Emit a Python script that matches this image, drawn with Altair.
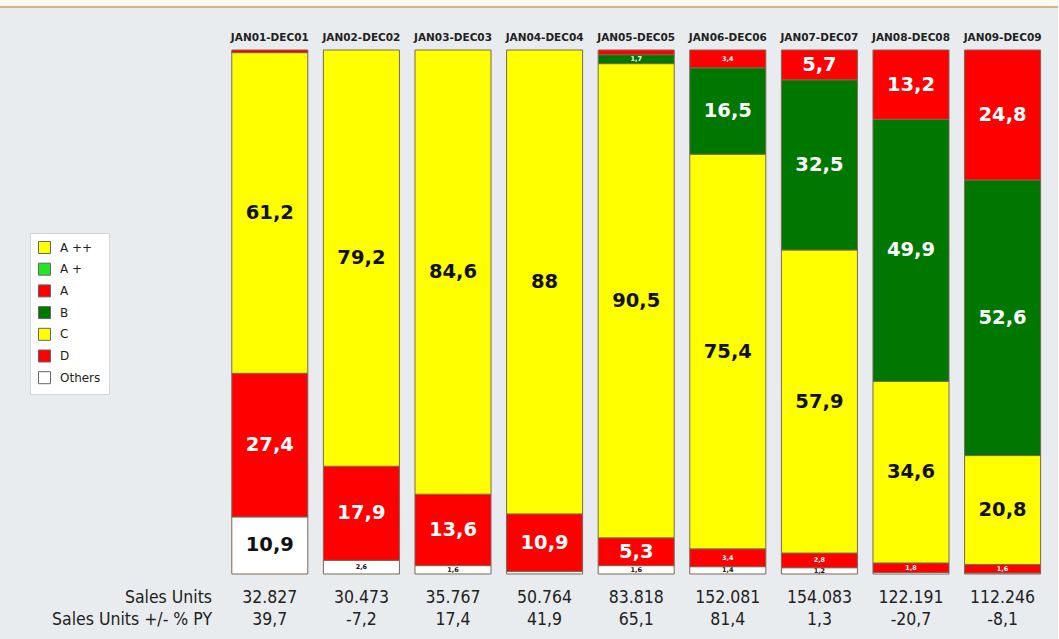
import altair as alt
import pandas as pd

periods = ["JAN01-DEC01", "JAN02-DEC02", "JAN03-DEC03", "JAN04-DEC04", "JAN05-DEC05",
           "JAN06-DEC06", "JAN07-DEC07", "JAN08-DEC08", "JAN09-DEC09"]
legend_order = ["A ++", "A +", "A", "B", "C", "D", "Others"]
legend_colors = ["#ffff00", "#22e622", "#ff0000", "#007800", "#ffff00", "#ff0000", "#ffffff"]

seg_others = [10.9, 2.6, 1.6, 0.5, 1.6, 1.4, 1.2, 0.3, 0.2]
seg_d = [27.4, 17.9, 13.6, 10.9, 5.3, 3.4, 2.8, 1.8, 1.6]
seg_c = [61.2, 79.2, 84.6, 88.0, 90.5, 75.4, 57.9, 34.6, 20.8]
seg_b = [0, 0, 0, 0, 1.7, 16.5, 32.5, 49.9, 52.6]
seg_a = [0.5, 0, 0, 0, 0.9, 3.4, 5.7, 13.2, 24.8]
seg_aplus = [0, 0, 0, 0, 0, 0, 0, 0, 0]
seg_aplusplus = [0, 0, 0, 0, 0, 0, 0, 0, 0]

sales_units = ["32.827", "30.473", "35.767", "50.764", "83.818", "152.081", "154.083", "122.191", "112.246"]
sales_py = ["39,7", "-7,2", "17,4", "41,9", "65,1", "81,4", "1,3", "-20,7", "-8,1"]
row_labels = ["Sales Units", "Sales Units +/- % PY"]

series = [("Others", seg_others), ("D", seg_d), ("C", seg_c), ("B", seg_b),
          ("A", seg_a), ("A +", seg_aplus), ("A ++", seg_aplusplus)]
dark_text = {"Others", "C", "A ++"}

rows = []
for ordv, (cat, vals) in enumerate(series):
    for p, v in zip(periods, vals):
        if v <= 0:
            continue
        lab = f"{v:g}".replace(".", ",")
        rows.append({"period": p, "cat": cat, "value": v, "ord": ordv, "label": lab,
                     "fs": 19.5 if v >= 4 else 6.5,
                     "tc": "dark" if cat in dark_text else "light"})
df = pd.DataFrame(rows)

xscale = alt.Scale(domain=periods, paddingInner=0.17, paddingOuter=0.085)
yscale = alt.Scale(domain=[0, 1], nice=False)

base = alt.Chart(df)

bars = base.mark_bar(stroke="#7a6656", strokeWidth=1).encode(
    x=alt.X("period:N", sort=periods, axis=None, scale=xscale),
    y=alt.Y("value:Q", stack="normalize", axis=None, scale=yscale),
    color=alt.Color("cat:N", scale=alt.Scale(domain=legend_order, range=legend_colors),
                    legend=alt.Legend(title=None)),
    order=alt.Order("ord:Q", sort="ascending"),
)

def text_layer(tc, color):
    return base.transform_stack(
        stack="value", groupby=["period"], as_=["y0", "y1"], offset="normalize",
        sort=[alt.SortField("ord", order="ascending")]
    ).transform_calculate(
        mid="(datum.y0 + datum.y1) / 2"
    ).transform_filter(
        (alt.datum.value >= 1) & (alt.datum.tc == tc)
    ).mark_text(font="DejaVu Sans", fontWeight="bold", color=color, baseline="middle").encode(
        x=alt.X("period:N", sort=periods, axis=None, scale=xscale),
        y=alt.Y("mid:Q", axis=None, scale=yscale),
        size=alt.Size("fs:Q", scale=None),
        text="label:N",
    )

txt_dark = text_layer("dark", "#111111")
txt_light = text_layer("light", "#ffffff")

hdr_df = pd.DataFrame({"period": periods, "su": sales_units, "py": sales_py})
hdr = alt.Chart(hdr_df)
headers = hdr.mark_text(font="DejaVu Sans", fontWeight="bold", fontSize=10.5, color="#222222",
                        baseline="middle").encode(
    x=alt.X("period:N", sort=periods, axis=None, scale=xscale),
    y=alt.value(-12),
    text="period:N",
)
row_font = "'DejaVu Sans Condensed', 'Liberation Sans', sans-serif"
row_fs = 17.5
su_row = hdr.mark_text(font=row_font, fontSize=row_fs, color="#222222", baseline="middle").encode(
    x=alt.X("period:N", sort=periods, axis=None, scale=xscale),
    y=alt.value(548),
    text="su:N",
)
py_row = hdr.mark_text(font=row_font, fontSize=row_fs, color="#222222", baseline="middle").encode(
    x=alt.X("period:N", sort=periods, axis=None, scale=xscale),
    y=alt.value(570),
    text="py:N",
)
lab_df = pd.DataFrame({"t": row_labels, "yy": [548, 570]})
row_labs = alt.Chart(lab_df).mark_text(font=row_font, fontSize=row_fs, color="#222222",
                                       align="right", baseline="middle").encode(
    x=alt.value(-12),
    y=alt.Y("yy:Q", scale=None),
    text="t:N",
)

top_band = alt.Chart(pd.DataFrame({"a": [0]})).mark_rect(color="#fcfaf2").encode(
    x=alt.value(-224), x2=alt.value(840), y=alt.value(-50), y2=alt.value(-44))
top_line = alt.Chart(pd.DataFrame({"a": [0]})).mark_rule(color="#d8b27c", strokeWidth=2).encode(
    x=alt.value(-224), x2=alt.value(840), y=alt.value(-43))

chart = alt.layer(top_band, top_line, bars, txt_dark, txt_light, headers, su_row, py_row, row_labs).properties(
    width=824.4, height=524,
    padding={"left": 224, "top": 50, "right": 10, "bottom": 65},
    autosize=alt.AutoSizeParams(type="none"),
    background="#e9ecee",
).configure_view(stroke=None).configure_legend(
    orient="none", legendX=-194, legendY=183,
    fillColor="#ffffff", strokeColor="#d6d6d6", padding=8,
    symbolType="square", symbolSize=144, symbolStrokeColor="#666666", symbolStrokeWidth=1,
    symbolOpacity=1,
    labelFont="DejaVu Sans", labelFontSize=12, labelColor="#222222", labelOffset=9,
    rowPadding=4.7,
)

chart.save("out.html", embed_options={"renderer": "svg", "actions": False})
